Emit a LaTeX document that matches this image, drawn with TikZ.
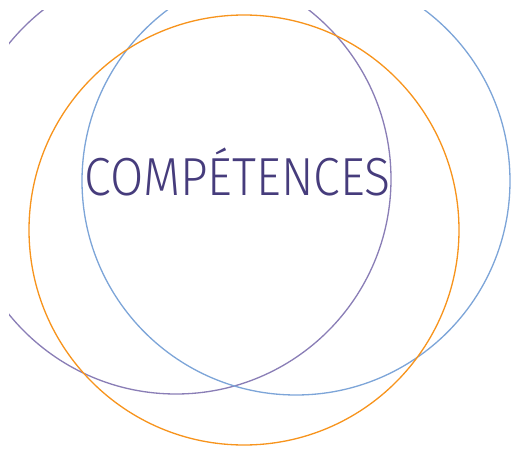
\documentclass[tikz,border=0pt]{standalone}
\usepackage{fontspec}
\newfontfamily\titlefont[FakeStretch=0.9]{Fira Sans Light}
\usepackage{tikz}
\definecolor{ringpurple}{HTML}{8A7EB6}
\definecolor{ringblue}{HTML}{7DA5D8}
\definecolor{ringorange}{HTML}{F7941D}
\definecolor{titleink}{HTML}{463C7C}

\begin{document}
\begin{tikzpicture}[x=0.02cm, y=-0.02cm]
		%%%%% START %%%%%
		
		\useasboundingbox (0, 0) rectangle (511, 450);
		
		\begin{scope}
		\clip (9, 10) rectangle (511, 450);
		\draw[line width=0.75pt, color=ringpurple] (176, 179) circle (215);
		\draw[line width=0.75pt, color=ringblue] (296, 181) circle (214);
		\draw[line width=0.75pt, color=ringorange] (244, 230) circle (215);
		\end{scope}
		
		\node[anchor=base, inner sep=0pt, color=titleink, font=\titlefont\fontsize{30.5}{34}\selectfont] (title) at (237.5, 195) {COMPÉTENCES};
		
		%%%%% END %%%%%
	\end{tikzpicture}
\end{document}
